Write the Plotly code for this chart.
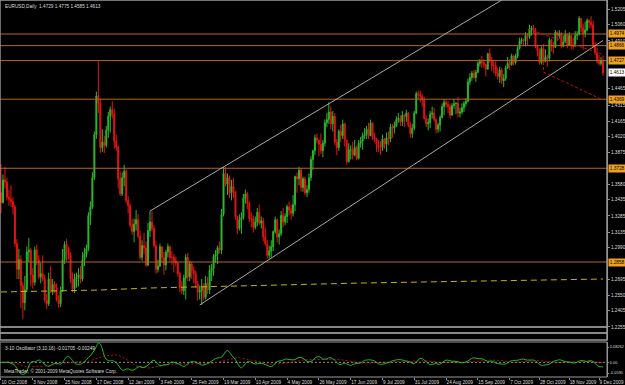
import pandas as pd
import numpy as np
import plotly.graph_objects as go

# ---------------- data (EURUSD daily) ----------------
FIRST_OPEN = 1.3500
HIGH = [
    # Oct 2008
    1.3770,1.3670,1.3740,1.3640,1.3530,1.3570,1.3460,1.3390,1.3070,1.2980,1.2920,1.2670,1.2730,1.3000,1.3080,1.2990,
    # Nov 2008
    1.2800,1.3000,1.3020,1.2920,1.2850,1.2920,1.2740,1.2560,1.2760,1.2820,1.2700,1.2680,1.2660,1.2550,1.2630,1.2980,1.3050,1.3070,1.3000,1.2950,
    # Dec 2008
    1.2760,1.2750,1.2760,1.2800,1.2820,1.2950,1.2990,1.3020,1.3320,1.3420,1.3690,1.4070,1.4440,1.4720,1.4370,1.4090,1.4030,1.4120,1.4250,1.4300,1.4350,1.4280,
    # Jan 2009
    1.4040,1.3940,1.3700,1.3690,1.3760,1.3720,1.3470,1.3400,1.3260,1.3260,1.3340,1.3300,1.3150,1.3060,1.3130,1.3050,1.3220,1.3330,1.3330,1.3200,1.3050,
    # Feb 2009
    1.2880,1.3030,1.3000,1.2950,1.2970,1.3030,1.3010,1.2960,1.2930,1.2910,1.2850,1.2770,1.2680,1.2740,1.2930,1.2940,1.2870,1.2860,1.2820,1.2780,
    # Mar 2009
    1.2680,1.2640,1.2700,1.2660,1.2730,1.2720,1.2830,1.2840,1.2930,1.2970,1.3010,1.3050,1.3350,1.3740,1.3740,1.3680,1.3660,1.3620,1.3640,1.3520,1.3280,1.3300,
    # Apr 2009
    1.3320,1.3490,1.3530,1.3510,1.3420,1.3320,1.3290,1.3280,1.3360,1.3390,1.3280,1.3270,1.3180,1.3060,1.3010,1.3060,1.3150,1.3280,1.3260,1.3160,1.3330,1.3360,
    # May 2009
    1.3310,1.3390,1.3420,1.3390,1.3480,1.3660,1.3690,1.3740,1.3730,1.3650,1.3650,1.3570,1.3680,1.3840,1.3900,1.4040,1.4050,1.3990,1.4050,1.3990,1.4180,
    # Jun 2009
    1.4240,1.4340,1.4300,1.4260,1.4240,1.4000,1.4090,1.4130,1.4180,1.4150,1.3990,1.3960,1.3940,1.3970,1.3990,1.3940,1.3990,1.4020,1.4060,1.4100,
    # Jun 29 - Jul 2009
    1.4120,1.4150,1.4180,1.4150,1.4060,1.4010,1.3990,1.3980,1.4040,1.4010,1.4060,1.4070,1.4140,1.4140,1.4160,1.4210,1.4240,1.4220,1.4260,1.4230,1.4270,1.4250,1.4160,1.4140,1.4260,
    # Aug 2009
    1.4440,1.4450,1.4450,1.4420,1.4390,1.4220,1.4190,1.4260,1.4300,1.4290,1.4190,1.4150,1.4220,1.4330,1.4370,1.4360,1.4350,1.4330,1.4330,1.4370,
    # Aug 31 - Sep 2009
    1.4340,1.4390,1.4290,1.4330,1.4350,1.4380,1.4560,1.4610,1.4630,1.4640,1.4640,1.4720,1.4740,1.4770,1.4740,1.4700,1.4800,1.4840,1.4760,1.4720,1.4720,1.4660,1.4670,
    # Oct 2009
    1.4660,1.4600,1.4680,1.4760,1.4740,1.4790,1.4780,1.4790,1.4860,1.4940,1.4940,1.4930,1.4990,1.4980,1.5060,1.5050,1.5060,1.5030,1.4870,1.4840,1.4860,1.4880,
    # Nov 2009
    1.4830,1.4780,1.4940,1.4930,1.4900,1.5010,1.5000,1.5010,1.4990,1.4960,1.5010,1.4970,1.4990,1.4960,1.4940,1.5000,1.5000,1.5140,1.5110,1.5070,
    # Nov 30 - Dec 2009
    1.5090,1.5120,1.5110,1.5140,1.5100,1.4900,1.4850,1.4780,1.4760,1.4775,
]
LOW = [
    1.3310,1.3400,1.3540,1.3430,1.3380,1.3370,1.3300,1.3000,1.2700,1.2700,1.2430,1.2330,1.2410,1.2580,1.2860,1.2630,
    1.2610,1.2640,1.2830,1.2700,1.2660,1.2680,1.2480,1.2420,1.2450,1.2570,1.2550,1.2570,1.2490,1.2430,1.2440,1.2580,1.2840,1.2860,1.2880,1.2660,
    1.2580,1.2570,1.2620,1.2630,1.2660,1.2680,1.2820,1.2900,1.2960,1.3200,1.3350,1.3620,1.4000,1.4240,1.3870,1.3880,1.3870,1.3920,1.4010,1.4060,1.4190,1.3910,
    1.3890,1.3540,1.3470,1.3470,1.3560,1.3400,1.3310,1.3180,1.3110,1.3040,1.3150,1.3080,1.2880,1.2870,1.2930,1.2810,1.2820,1.3090,1.3140,1.2990,1.2750,
    1.2760,1.2810,1.2850,1.2740,1.2780,1.2900,1.2870,1.2830,1.2760,1.2820,1.2720,1.2580,1.2560,1.2550,1.2510,1.2680,1.2680,1.2700,1.2660,1.2620,
    1.2500,1.2510,1.2460,1.2500,1.2510,1.2560,1.2560,1.2680,1.2730,1.2850,1.2840,1.2940,1.2930,1.3280,1.3560,1.3480,1.3450,1.3430,1.3450,1.3250,1.3120,1.3150,
    1.3120,1.3250,1.3400,1.3350,1.3230,1.3180,1.3130,1.3160,1.3190,1.3200,1.3170,1.3050,1.3010,1.2890,1.2890,1.2900,1.2960,1.3120,1.3040,1.3020,1.3100,1.3180,
    1.3200,1.3220,1.3290,1.3250,1.3280,1.3330,1.3500,1.3570,1.3510,1.3510,1.3480,1.3460,1.3500,1.3610,1.3710,1.3850,1.3960,1.3840,1.3860,1.3830,1.3930,
    1.4110,1.4140,1.4090,1.4070,1.3940,1.3850,1.3890,1.3970,1.4000,1.3930,1.3760,1.3780,1.3810,1.3810,1.3840,1.3800,1.3810,1.3920,1.3900,1.4000,
    1.4000,1.4000,1.4030,1.3990,1.3970,1.3880,1.3880,1.3850,1.3890,1.3910,1.3880,1.3940,1.3970,1.4010,1.4050,1.4110,1.4150,1.4120,1.4120,1.4110,1.4160,1.4110,1.4010,1.4010,1.4080,
    1.4230,1.4370,1.4340,1.4300,1.4180,1.4110,1.4080,1.4100,1.4190,1.4160,1.4050,1.4060,1.4070,1.4190,1.4220,1.4290,1.4240,1.4190,1.4220,1.4280,
    1.4230,1.4200,1.4200,1.4230,1.4250,1.4300,1.4340,1.4500,1.4540,1.4560,1.4530,1.4610,1.4670,1.4660,1.4660,1.4580,1.4640,1.4710,1.4630,1.4610,1.4580,1.4550,1.4520,
    1.4510,1.4480,1.4540,1.4650,1.4640,1.4680,1.4680,1.4690,1.4750,1.4830,1.4880,1.4860,1.4860,1.4870,1.4930,1.4960,1.4980,1.4840,1.4770,1.4690,1.4690,1.4700,
    1.4710,1.4670,1.4720,1.4810,1.4790,1.4860,1.4910,1.4930,1.4840,1.4850,1.4890,1.4840,1.4870,1.4830,1.4830,1.4870,1.4920,1.4960,1.4990,1.4830,
    1.4940,1.5000,1.5030,1.5030,1.4850,1.4780,1.4700,1.4680,1.4680,1.4585,
]
CLOSE = [
    1.3410,1.3620,1.3600,1.3460,1.3440,1.3420,1.3370,1.3030,1.2790,1.2880,1.2640,1.2480,1.2600,1.2950,1.2970,1.2740,
    1.2670,1.2970,1.2880,1.2720,1.2750,1.2700,1.2500,1.2470,1.2700,1.2590,1.2650,1.2620,1.2510,1.2470,1.2590,1.2880,1.3020,1.2990,1.2920,1.2700,
    1.2610,1.2700,1.2720,1.2740,1.2700,1.2880,1.2930,1.2980,1.3290,1.3370,1.3640,1.4040,1.4400,1.4330,1.3920,1.3970,1.3940,1.4080,1.4210,1.4270,1.4230,1.3980,
    1.3920,1.3630,1.3490,1.3640,1.3700,1.3430,1.3380,1.3200,1.3140,1.3210,1.3250,1.3100,1.2900,1.3010,1.2990,1.2830,1.3150,1.3230,1.3170,1.3010,1.2790,
    1.2820,1.3000,1.2900,1.2830,1.2950,1.3000,1.2900,1.2900,1.2870,1.2850,1.2750,1.2620,1.2590,1.2710,1.2900,1.2720,1.2840,1.2780,1.2750,1.2660,
    1.2580,1.2590,1.2630,1.2530,1.2660,1.2600,1.2780,1.2800,1.2910,1.2930,1.2990,1.2970,1.3300,1.3680,1.3580,1.3640,1.3500,1.3560,1.3510,1.3280,1.3170,1.3250,
    1.3270,1.3450,1.3490,1.3400,1.3260,1.3260,1.3180,1.3230,1.3320,1.3220,1.3240,1.3090,1.3030,1.2920,1.2960,1.3000,1.3140,1.3250,1.3090,1.3120,1.3290,1.3230,
    1.3280,1.3370,1.3340,1.3310,1.3390,1.3650,1.3630,1.3710,1.3550,1.3630,1.3500,1.3530,1.3640,1.3810,1.3890,1.4010,1.3990,1.3950,1.3890,1.3960,1.4150,
    1.4180,1.4250,1.4140,1.4210,1.3970,1.3920,1.4070,1.4030,1.4140,1.3990,1.3790,1.3900,1.3900,1.3850,1.3920,1.3820,1.3960,1.3980,1.4030,1.4040,
    1.4090,1.4030,1.4150,1.4020,1.4000,1.3950,1.3920,1.3920,1.4000,1.3950,1.4010,1.4000,1.4110,1.4100,1.4120,1.4180,1.4190,1.4160,1.4220,1.4210,1.4240,1.4130,1.4050,1.4100,1.4240,
    1.4420,1.4410,1.4400,1.4360,1.4190,1.4140,1.4150,1.4230,1.4240,1.4180,1.4090,1.4130,1.4200,1.4300,1.4340,1.4320,1.4300,1.4220,1.4310,1.4330,
    1.4330,1.4240,1.4250,1.4290,1.4330,1.4350,1.4530,1.4570,1.4610,1.4570,1.4620,1.4700,1.4720,1.4710,1.4690,1.4650,1.4790,1.4730,1.4680,1.4680,1.4610,1.4580,1.4640,
    1.4540,1.4560,1.4660,1.4700,1.4690,1.4770,1.4710,1.4770,1.4840,1.4910,1.4920,1.4910,1.4960,1.4950,1.5020,1.5030,1.5010,1.4860,1.4820,1.4710,1.4840,1.4720,
    1.4760,1.4750,1.4920,1.4860,1.4850,1.4990,1.4960,1.4980,1.4860,1.4900,1.4970,1.4870,1.4960,1.4870,1.4860,1.4960,1.4970,1.5120,1.5030,1.4980,
    1.5010,1.5100,1.5080,1.5060,1.4860,1.4800,1.4720,1.4700,1.4729,1.4613,
]

HOLIDAYS = ["2008-12-25", "2009-01-01"]
TICK_LABELS = ["10 Oct 2008", "3 Nov 2008", "25 Nov 2008", "17 Dec 2008", "12 Jan 2009",
               "3 Feb 2009", "25 Feb 2009", "19 Mar 2009", "10 Apr 2009", "4 May 2009",
               "26 May 2009", "17 Jun 2009", "9 Jul 2009", "31 Jul 2009", "24 Aug 2009",
               "15 Sep 2009", "7 Oct 2009", "28 Oct 2009", "18 Nov 2009", "9 Dec 2009"]
# price scale labels that are not hidden behind the price boxes
PRICE_TICKS = [1.5205, 1.5060, 1.4910, 1.4465, 1.4315, 1.4165, 1.4020,
               1.3875, 1.3580, 1.3435, 1.3285, 1.3135, 1.2990, 1.2695,
               1.2550, 1.2405, 1.2255]
LEVELS = [1.4974, 1.4866, 1.4727, 1.4369, 1.3728, 1.2858]      # orange horizontal lines
GRAY_LEVELS = [1.2255, 1.2199]
LAST_PRICE = 1.4613
# yellow long-term line: (bar index, price)
YELLOW_X = [0, 50, 75, 100, 141, 181, 250, 303]
YELLOW_Y = [1.2580, 1.2598, 1.2617, 1.2626, 1.2645, 1.2663, 1.2685, 1.2700]
# trend lines: ((bar, price), (bar, price))
GRAY_LINES = [((75, 1.3331), (303, 1.5853)), ((100, 1.2459), (303, 1.4913))]
RED_LINES = [([265, 303], [1.5020, 1.4784]), ([273, 273, 303], [1.4714, 1.4621, 1.4361])]
# oscillator window: max / min shown at its top and bottom edge
OSC_MAX, OSC_MIN = 0.08262, -0.0595
OSC_TICKTEXT = ["0.08262", "0.00", "-0.0595"]

# ---------------- build ----------------
dates = pd.bdate_range("2008-10-10", "2009-12-11")
dates = dates[~dates.isin(pd.to_datetime(HOLIDAYS))]
n = len(CLOSE)
assert len(HIGH) == n and len(LOW) == n and len(dates) == n, (len(HIGH), len(LOW), n, len(dates))
idx = np.arange(n)
close = np.array(CLOSE)
opn = np.concatenate([[FIRST_OPEN], close[:-1]])
high = np.maximum.reduce([np.array(HIGH), opn, close])
low = np.minimum.reduce([np.array(LOW), opn, close])

median = pd.Series((high + low) / 2)
osc = median.rolling(3, min_periods=1).mean() - median.rolling(10, min_periods=1).mean()
sig = osc.rolling(16, min_periods=1).mean()

date_str = [f"{d.day} {d.strftime('%b %Y')}" for d in dates]
tickvals = [date_str.index(t) for t in TICK_LABELS]

H, W = 385, 625
MB, MR = 8, 18
plot_h = H - MB
main_dom = [1 - 340 / plot_h, 1]
osc_dom = [0, (plot_h - 342) / plot_h]
osc_px = (OSC_MAX - OSC_MIN) / (plot_h - 342)          # value per pixel in the oscillator window
osc_tickvals = [OSC_MAX - 5 * osc_px, 0.0, OSC_MIN + 4 * osc_px]

GRID = "#8c8c8c"
TXT = "#dcdcdc"
FONT = "Liberation Sans, Arial, sans-serif"
FS = 4.7

fig = go.Figure()
fig.add_trace(go.Candlestick(
    x=idx, open=opn, high=high, low=low, close=close,
    increasing=dict(line=dict(color="#2cb82c", width=1), fillcolor="#2cb82c"),
    decreasing=dict(line=dict(color="#e51414", width=1), fillcolor="#e51414"),
    whiskerwidth=0, showlegend=False, hoverinfo="skip", xaxis="x", yaxis="y"))

for lv in LEVELS:
    fig.add_trace(go.Scatter(x=[-1, n + 2], y=[lv, lv], mode="lines",
                             line=dict(color="#b8671c", width=1), showlegend=False,
                             hoverinfo="skip", xaxis="x", yaxis="y"))
for lv in GRAY_LEVELS:
    fig.add_trace(go.Scatter(x=[-1, n + 2], y=[lv, lv], mode="lines",
                             line=dict(color="#b4b4b4", width=1.6), showlegend=False,
                             hoverinfo="skip", xaxis="x", yaxis="y"))
fig.add_trace(go.Scatter(x=YELLOW_X, y=YELLOW_Y, mode="lines",
                         line=dict(color="#c8b400", width=1, dash="6px,4px"),
                         showlegend=False, hoverinfo="skip", xaxis="x", yaxis="y"))
for (a, b) in GRAY_LINES:
    fig.add_trace(go.Scatter(x=[a[0], b[0]], y=[a[1], b[1]], mode="lines",
                             line=dict(color="#a8a8a8", width=1), showlegend=False,
                             hoverinfo="skip", xaxis="x", yaxis="y"))
for xs, ys in RED_LINES:
    fig.add_trace(go.Scatter(x=xs, y=ys, mode="lines",
                             line=dict(color="#c01010", width=1, dash="3px,2px"),
                             showlegend=False, hoverinfo="skip", xaxis="x", yaxis="y"))

# oscillator
fig.add_trace(go.Scatter(x=[-1, n + 2], y=[0, 0], mode="lines",
                         line=dict(color="#909090", width=1, dash="2px,2px"),
                         showlegend=False, hoverinfo="skip", xaxis="x", yaxis="y2"))
fig.add_trace(go.Scatter(x=idx, y=sig, mode="lines",
                         line=dict(color="#c01010", width=1, dash="2px,2px"),
                         showlegend=False, hoverinfo="skip", xaxis="x", yaxis="y2"))
fig.add_trace(go.Scatter(x=idx, y=osc, mode="lines", line_shape="spline",
                         line=dict(color="#22c022", width=1),
                         showlegend=False, hoverinfo="skip", xaxis="x", yaxis="y2"))

annotations = [
    dict(x=0, y=1, xref="paper", yref="paper", xanchor="left", yanchor="top", xshift=3, yshift=-2,
         text="EURUSD,Daily  1.4729 1.4775 1.4585 1.4613", showarrow=False,
         font=dict(family=FONT, size=FS, color=TXT)),
    dict(x=0, y=osc_dom[1], xref="paper", yref="paper", xanchor="left", yanchor="top", xshift=3, yshift=-2,
         text="3-10 Oscillator (3,10,16) -0.01705 -0.00249", showarrow=False,
         font=dict(family=FONT, size=FS, color=TXT)),
    dict(x=0, y=0, xref="paper", yref="paper", xanchor="left", yanchor="bottom", xshift=2, yshift=1,
         text="MetaTrader, © 2001-2009 MetaQuotes Software Corp.", showarrow=False,
         font=dict(family=FONT, size=FS, color=TXT)),
]
for lv in LEVELS:
    annotations.append(dict(x=1, y=lv, xref="paper", yref="y", xanchor="left", yanchor="middle",
                            xshift=1, text=f"{lv:.4f}", showarrow=False, bgcolor="#f0a020",
                            borderpad=0.8, font=dict(family=FONT, size=FS, color="#000000")))
annotations.append(dict(x=1, y=LAST_PRICE, xref="paper", yref="y", xanchor="left", yanchor="middle",
                        xshift=1, text=f"{LAST_PRICE:.4f}", showarrow=False, bgcolor="#ffffff",
                        borderpad=0.8, font=dict(family=FONT, size=FS, color="#000000")))

shapes = [
    dict(type="rect", xref="paper", yref="paper", x0=0, x1=1, y0=main_dom[0], y1=main_dom[1],
         line=dict(color="#9a9a9a", width=1.4)),
    dict(type="rect", xref="paper", yref="paper", x0=0, x1=1, y0=osc_dom[0], y1=osc_dom[1],
         line=dict(color="#9a9a9a", width=1)),
]

fig.update_layout(
    width=W, height=H, margin=dict(l=0, r=MR, t=0, b=MB, autoexpand=False),
    paper_bgcolor="#000000", plot_bgcolor="#000000",
    font=dict(family=FONT, size=FS, color=TXT),
    showlegend=False,
    xaxis=dict(domain=[0, 1], anchor="y2", range=[-0.5, 305.0], rangeslider=dict(visible=False),
               tickvals=tickvals, ticktext=TICK_LABELS, ticklabelposition="outside right",
               tickangle=0, automargin=False, ticklabeloverflow="allow",
               ticks="outside", ticklen=2, tickcolor=GRID, showgrid=False, zeroline=False,
               showline=False, tickfont=dict(family=FONT, size=FS, color=TXT)),
    yaxis=dict(domain=main_dom, anchor="x", side="right", range=[1.21342, 1.52894],
               tickvals=PRICE_TICKS, ticktext=[f"{v:.4f}" for v in PRICE_TICKS],
               automargin=False, ticklabeloverflow="allow",
               ticks="outside", ticklen=2, tickcolor=GRID, showgrid=False, zeroline=False,
               showline=True, linecolor=GRID, linewidth=1,
               tickfont=dict(family=FONT, size=FS, color=TXT)),
    yaxis2=dict(domain=osc_dom, anchor="x", side="right", range=[OSC_MIN, OSC_MAX],
                tickvals=osc_tickvals, ticktext=OSC_TICKTEXT, automargin=False,
                ticklabeloverflow="allow",
                ticks="outside", ticklen=1, tickcolor=GRID, showgrid=False, zeroline=False,
                showline=True, linecolor=GRID, linewidth=1,
                tickfont=dict(family=FONT, size=3.9, color=TXT)),
    annotations=annotations, shapes=shapes,
)

fig.write_html("out.html")
